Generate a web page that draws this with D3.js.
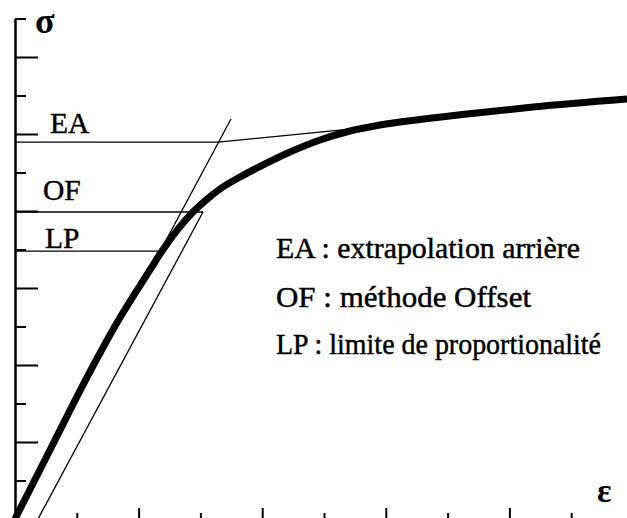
<!DOCTYPE html>
<html>
<head>
<meta charset="utf-8">
<script src="https://cdn.jsdelivr.net/npm/d3@7"></script>
<style>
  html, body { margin: 0; padding: 0; background: #fff; }
  svg { display: block; }
  text { font-family: "Liberation Serif", "Times New Roman", serif; fill: #000; }
</style>
</head>
<body>
<svg id="chart" width="627" height="518"></svg>
<script>
// ---- data (axis units: ε ticks 0..10, σ ticks 0..13) ----
const curveEps   = [0, 0.566, 1.133, 1.667, 2.184, 2.379, 2.880, 3.074, 3.317, 3.641, 4.045, 4.450, 4.935, 5.421, 5.906, 6.553, 7.314, 8.382, 9.903];
const curveSigma = [0, 1.792, 3.584, 5.143, 6.468, 6.961, 7.974, 8.260, 8.571, 8.883, 9.221, 9.532, 9.844, 10.078, 10.234, 10.377, 10.519, 10.701, 10.909];

const tangentEps   = [2.03, 3.495];
const tangentSigma = [6.0, 10.39];

const offsetEps   = [0.372, 3.042];
const offsetSigma = [0, 7.974];

const eaEps   = [0, 3.288, 5.583];
const eaSigma = [9.79, 9.79, 10.15];

const ofEps   = [0, 3.042];
const ofSigma = [7.974, 7.974];

const lpEps   = [0, 2.32];
const lpSigma = [6.96, 6.96];

const xTicksLong  = [2, 4, 6, 8];
const xTicksShort = [1, 3, 5, 7, 9];
const yTicksLong  = [2, 4, 6, 8, 10, 12];
const yTicksShort = [1, 3, 5, 7, 9, 11, 13];

const levelLabels  = ["EA", "OF", "LP"];
const legendLabels = ["EA : extrapolation arrière", "OF : méthode Offset", "LP : limite de proportionalité"];
const yAxisLabel = "σ";
const xAxisLabel = "ε";

// ---- scales ----
const svg = d3.select("#chart");
const x = d3.scaleLinear().domain([0, 10]).range([15, 633]);
const y = d3.scaleLinear().domain([0, 13]).range([519, 18.5]);

const zip = (a, b) => a.map((v, i) => [v, b[i]]);
const line = d3.line().x(d => x(d[0])).y(d => y(d[1]));

// ---- axes ----
function styleAxis(g) {
  g.selectAll("path.domain").attr("stroke", "#000").attr("stroke-width", 2);
  g.selectAll(".tick line").attr("stroke", "#000").attr("stroke-width", 2);
  g.selectAll(".tick text").remove();
}
svg.append("g").attr("transform", `translate(${x(0)},0)`)
  .call(d3.axisRight(y).tickValues(yTicksLong).tickSize(23).tickSizeOuter(0).tickFormat(""))
  .call(styleAxis);
svg.append("g").attr("transform", `translate(${x(0)},0)`)
  .call(d3.axisRight(y).tickValues(yTicksShort).tickSize(11).tickSizeOuter(0).tickFormat(""))
  .call(styleAxis);
svg.append("g").attr("transform", `translate(0,${y(0)})`)
  .call(d3.axisTop(x).tickValues(xTicksLong).tickSize(11).tickSizeOuter(0).tickFormat(""))
  .call(styleAxis);
svg.append("g").attr("transform", `translate(0,${y(0)})`)
  .call(d3.axisTop(x).tickValues(xTicksShort).tickSize(6).tickSizeOuter(0).tickFormat(""))
  .call(styleAxis);

// ---- thin construction lines ----
const thin = [
  zip(tangentEps, tangentSigma),
  zip(offsetEps, offsetSigma),
  zip(eaEps, eaSigma),
  zip(ofEps, ofSigma),
  zip(lpEps, lpSigma)
];
svg.append("g").selectAll("path").data(thin).join("path")
  .attr("d", line)
  .attr("fill", "none")
  .attr("stroke", "#000")
  .attr("stroke-width", 1.3);

// ---- stress-strain curve ----
svg.append("path")
  .datum(zip(curveEps, curveSigma))
  .attr("d", line.curve(d3.curveMonotoneX))
  .attr("fill", "none")
  .attr("stroke", "#000")
  .attr("stroke-width", 7)
  .attr("stroke-linejoin", "round");

// ---- labels ----
const textStyle = sel => sel.attr("stroke", "#000").attr("stroke-width", 0.45);
const levelPos = [[50, 133], [43, 200], [45, 248]];
svg.append("g").selectAll("text").data(levelLabels).join("text")
  .attr("x", (d, i) => levelPos[i][0])
  .attr("y", (d, i) => levelPos[i][1])
  .attr("font-size", 29.5)
  .call(textStyle)
  .text(d => d);

const legendY = [258, 307, 354];
const legendW = [304, 255, 325];
svg.append("g").selectAll("text").data(legendLabels).join("text")
  .attr("x", 276)
  .attr("y", (d, i) => legendY[i])
  .attr("font-size", 29.5)
  .attr("textLength", (d, i) => legendW[i])
  .attr("lengthAdjust", "spacingAndGlyphs")
  .call(textStyle)
  .text(d => d);

svg.append("text").attr("x", 35).attr("y", 33)
  .attr("font-size", 36).attr("font-weight", "bold").text(yAxisLabel);
svg.append("text").attr("x", 597).attr("y", 502)
  .attr("font-size", 34).attr("font-weight", "bold").text(xAxisLabel);
</script>
</body>
</html>
